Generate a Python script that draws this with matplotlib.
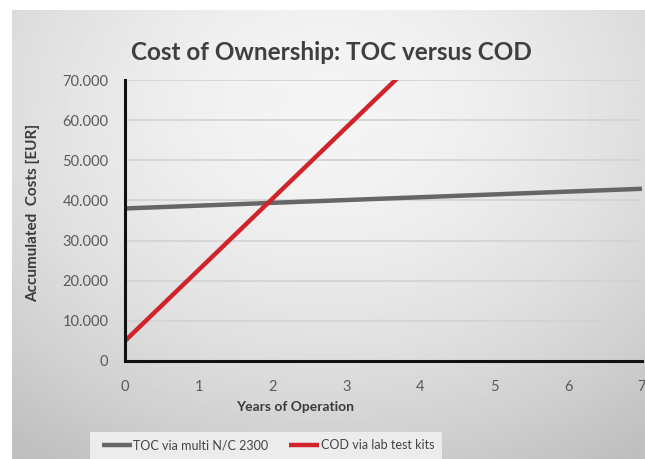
import numpy as np
import matplotlib
matplotlib.use("Agg")
import matplotlib.pyplot as plt
from matplotlib.patches import Rectangle
from matplotlib.ticker import FuncFormatter

# chart data
years = [0, 1, 2, 3, 4, 5, 6, 7]
toc_costs = [38000, 38700, 39400, 40100, 40800, 41500, 42200, 42900]
cod_years = [0, 1, 2, 3, 4]
cod_costs = [5000, 22750, 40500, 58250, 76000]
y_ticks = [0, 10000, 20000, 30000, 40000, 50000, 60000, 70000]

plt.rcParams["font.family"] = ["Lato", "DejaVu Sans"]

W, H = 645, 459
fig = plt.figure(figsize=(W / 100, H / 100), dpi=100)
fig.patch.set_facecolor("white")

# grey radial gradient panel behind everything
bg = fig.add_axes([12 / W, 0, 1 - 12 / W, 1 - 10 / H], zorder=-10)
gx, gy = np.meshgrid(np.linspace(-1, 1, 300), np.linspace(-1, 1, 220))
r = np.sqrt((gx * 0.85) ** 2 + ((gy + 0.55) * 0.75) ** 2)
shade = 0.96 - 0.12 * np.clip(r, 0, 1.4) ** 1.7
bg.imshow(shade, cmap="gray", vmin=0, vmax=1, aspect="auto", extent=[0, 1, 0, 1],
          interpolation="bilinear")
bg.axis("off")

ax = fig.add_axes([125 / W, 1 - 361 / H, (642 - 125) / W, (361 - 80) / H])
ax.set_facecolor("none")

ax.plot(years, toc_costs, color="#666666", lw=3.2, solid_capstyle="butt",
        label="TOC via multi N/C 2300", zorder=3)
ax.plot(cod_years, cod_costs, color="#d0232a", lw=3.2, solid_capstyle="butt",
        label="COD via lab test kits", zorder=4)

ax.set_xlim(0, 7)
ax.set_ylim(0, 70000)
ax.set_xticks(years)
ax.set_yticks(y_ticks)
ax.yaxis.set_major_formatter(FuncFormatter(lambda v, p: f"{int(v):,}".replace(",", ".")))
ax.grid(axis="y", color="#d2d2d2", lw=1.2)
ax.set_axisbelow(True)

for s in ["top", "right"]:
    ax.spines[s].set_visible(False)
for s in ["left", "bottom"]:
    ax.spines[s].set_color("#111111")
    ax.spines[s].set_linewidth(2.2)
    ax.spines[s].set_zorder(5)

ax.tick_params(length=0, labelsize=10.5, colors="#5a5a5a")
ax.tick_params(axis="x", pad=14)
ax.tick_params(axis="y", pad=12)

fig.text(295 / W, 1 - 407 / H, "Years of Operation", ha="center", va="center",
         fontsize=10, fontweight="bold", color="#3a3a3a")
fig.text(33 / W, 1 - 213 / H, "Accumulated  Costs [EUR]", ha="center", va="center",
         rotation=90, fontsize=11, fontweight="bold", color="#3a3a3a")

fig.text(331 / W, 1 - 52 / H, "Cost of Ownership: TOC versus COD", ha="center", va="center",
         fontsize=17.5, fontweight="bold", color="#3f3f3f")

# legend background strip, cut off by the bottom edge
fig.patches.append(Rectangle((90 / W, 0), 352 / W, 27 / H, transform=fig.transFigure,
                             facecolor="#ececec", edgecolor="none", zorder=1))
leg = fig.legend(loc="center", bbox_to_anchor=(268 / W, 1 - 445 / H), ncol=2, frameon=False,
                 fontsize=9, handlelength=2.4, handletextpad=0.1, columnspacing=1.7)
for t in leg.get_texts():
    t.set_color("#444444")

fig.savefig("out.png", dpi=100, facecolor="white")
